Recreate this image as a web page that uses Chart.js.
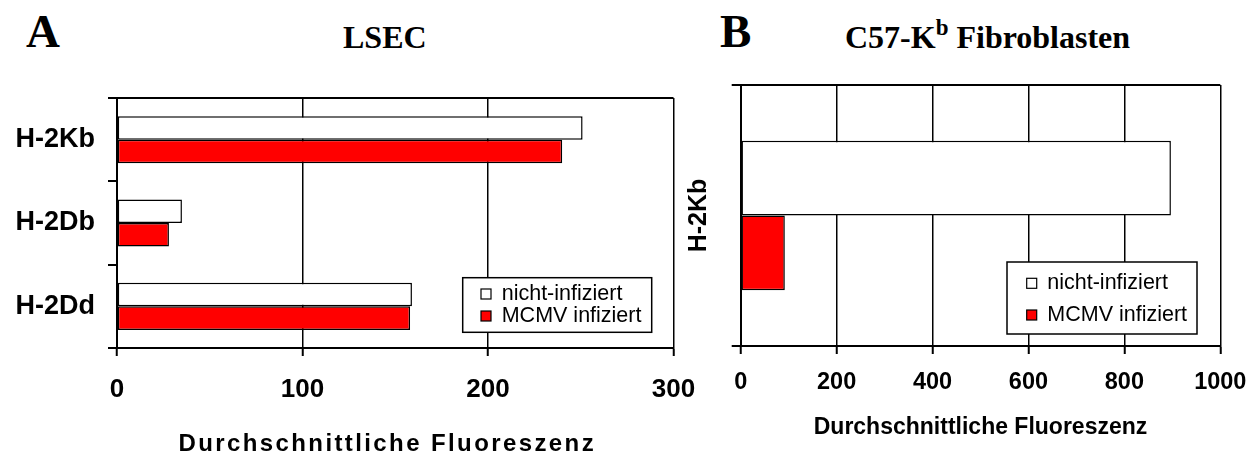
<!DOCTYPE html>
<html>
<head>
<meta charset="utf-8">
<script src="https://cdn.jsdelivr.net/npm/chart.js@4.4.1/dist/chart.umd.min.js"></script>
<style>
  html, body { margin: 0; padding: 0; background: #fff; width: 1248px; height: 456px; overflow: hidden; position: relative; }
  .t { position: absolute; font-family: "Liberation Serif", "Times New Roman", serif; font-weight: bold; line-height: 1; white-space: nowrap; color: #000; }
  canvas { position: absolute; top: 0; }
</style>
</head>
<body>
<div class="t" style="left:26px;top:8px;font-size:47px">A</div>
<div class="t" style="left:343px;top:21px;font-size:32px">LSEC</div>
<div class="t" style="left:720px;top:8px;font-size:47px">B</div>
<div class="t" style="left:845px;top:21px;font-size:32px">C57-K<span style="font-size:23px;position:relative;top:-13px">b</span> Fibroblasten</div>
<canvas id="chartA" width="714" height="456" style="left:0"></canvas>
<canvas id="chartB" width="610" height="456" style="left:670px"></canvas>
<script>
// Mean fluorescence of MHC class I alleles, uninfected vs. MCMV-infected cells
const seriesLabels = ['nicht-infiziert', 'MCMV infiziert'];
const seriesColors = ['#ffffff', '#ff0000'];

// Panel A: liver sinusoidal endothelial cells
const categoriesA = ['H-2Kb', 'H-2Db', 'H-2Dd'];
const uninfectedA = [251, 35, 159];
const infectedA = [240, 28, 158];
const ticksA = [0, 100, 200, 300];

// Panel B: C57-Kb fibroblasts
const categoriesB = ['H-2Kb'];
const uninfectedB = [897];
const infectedB = [92];
const ticksB = [0, 200, 400, 600, 800, 1000];

const axisTitleText = 'Durchschnittliche Fluoreszenz';
const FONT = '"Liberation Sans", Arial, Helvetica, sans-serif';
Chart.defaults.font.family = FONT;
Chart.defaults.color = '#000';

// Boxed legend placed inside the plot area, anchored to its lower right corner
const insetLegend = {
  id: 'insetLegend',
  afterDatasetsDraw(chart, args, o) {
    const { ctx, chartArea: ca } = chart;
    const x = ca.right - o.right - o.width;
    const y = ca.bottom - o.bottom - o.height;
    ctx.save();
    ctx.fillStyle = '#fff';
    ctx.fillRect(x, y, o.width, o.height);
    ctx.lineWidth = 1.5;
    ctx.strokeStyle = '#000';
    ctx.strokeRect(x, y, o.width, o.height);
    ctx.font = o.fontSize + 'px ' + FONT;
    ctx.textBaseline = 'middle';
    ctx.textAlign = 'left';
    chart.data.datasets.forEach((ds, i) => {
      const cy = y + o.rows[i];
      const mx = x + o.markerX;
      ctx.fillStyle = ds.backgroundColor;
      ctx.fillRect(mx, cy - o.marker / 2, o.marker, o.marker);
      ctx.lineWidth = 1.2;
      ctx.strokeStyle = '#000';
      ctx.strokeRect(mx, cy - o.marker / 2, o.marker, o.marker);
      ctx.fillStyle = '#000';
      ctx.fillText(ds.label, x + o.textX, cy);
    });
    ctx.restore();
  }
};

// Value-axis caption below the tick labels, with optional letter spacing
const spacedAxisTitle = {
  id: 'spacedAxisTitle',
  afterDraw(chart, args, o) {
    if (!o.text) return;
    const { ctx, chartArea: ca } = chart;
    ctx.save();
    ctx.font = 'bold ' + o.size + 'px ' + FONT;
    if ('letterSpacing' in ctx) ctx.letterSpacing = o.spacing + 'px';
    ctx.textAlign = 'center';
    ctx.textBaseline = 'middle';
    ctx.fillStyle = '#000';
    ctx.fillText(o.text, (ca.left + ca.right) / 2 + (o.shift || 0), ca.bottom + o.offset);
    ctx.restore();
  }
};

function barChart(id, p) {
  const ds = (i, values) => ({
    label: seriesLabels[i],
    data: values,
    backgroundColor: seriesColors[i],
    borderColor: '#000',
    borderWidth: 1.5,
    borderSkipped: false,
    categoryPercentage: p.groupFrac,
    barPercentage: 1
  });
  return new Chart(document.getElementById(id), {
    type: 'bar',
    data: { labels: p.categories, datasets: [ds(0, p.uninfected), ds(1, p.infected)] },
    options: {
      indexAxis: 'y',
      responsive: false,
      animation: false,
      devicePixelRatio: 1,
      layout: { padding: p.padding },
      plugins: {
        legend: { display: false },
        tooltip: { enabled: false },
        insetLegend: p.legend,
        spacedAxisTitle: p.axisTitle
      },
      scales: {
        x: {
          type: 'linear',
          min: p.ticks[0],
          max: p.ticks[p.ticks.length - 1],
          afterBuildTicks: s => { s.ticks = p.ticks.map(v => ({ value: v })); },
          ticks: { autoSkip: false, maxRotation: 0, color: '#000', padding: p.xTickPad,
                   font: { size: p.xTickSize, weight: 'bold' },
                   callback: v => String(v) },
          grid: { color: '#000', lineWidth: 1.5, tickLength: 8, tickWidth: 2 },
          border: { color: '#000', width: 2 },
          afterFit: s => { s.height = p.xHeight; }
        },
        y: {
          ticks: { display: p.yTicks, color: '#000', padding: p.yTickPad,
                   font: { size: p.yTickSize, weight: 'bold' } },
          grid: {
            offset: true,
            drawOnChartArea: true,
            color: c => (c.index === 0 ? '#000' : 'rgba(0,0,0,0)'),
            tickColor: '#000',
            lineWidth: 2,
            tickLength: 9
          },
          border: { color: '#000', width: 2 },
          title: p.yTitle,
          afterFit: s => { s.width = p.yWidth; }
        }
      }
    },
    plugins: [insetLegend, spacedAxisTitle]
  });
}

barChart('chartA', {
  categories: categoriesA, uninfected: uninfectedA, infected: infectedA, ticks: ticksA,
  groupFrac: 0.565,
  padding: { left: 0, top: 98, right: 40.5, bottom: 0 },
  yWidth: 117, xHeight: 108,
  xTickSize: 26, xTickPad: 18.4,
  yTicks: true, yTickSize: 27, yTickPad: 13,
  yTitle: { display: false },
  legend: { right: 21.8, bottom: 15.7, width: 189, height: 54.6, rows: [16.3, 38.3],
            markerX: 18.3, marker: 10, textX: 39, fontSize: 21.5 },
  axisTitle: { text: axisTitleText, size: 24, spacing: 2.4, offset: 96, shift: -8 }
});

barChart('chartB', {
  categories: categoriesB, uninfected: uninfectedB, infected: infectedB, ticks: ticksB,
  groupFrac: 0.572,
  padding: { left: 0, top: 85, right: 59.7, bottom: 0 },
  yWidth: 70.7, xHeight: 110,
  xTickSize: 23.5, xTickPad: 14.4,
  yTicks: false, yTickSize: 25, yTickPad: 10,
  yTitle: { display: true, text: categoriesB[0], color: '#000',
            font: { size: 25, weight: 'bold' }, padding: { top: 14.6, bottom: 0 } },
  legend: { right: 23.3, bottom: 12, width: 190, height: 72, rows: [21.3, 53],
            markerX: 19.7, marker: 10, textX: 40.3, fontSize: 21.5 },
  axisTitle: { text: axisTitleText, size: 23, spacing: 0, offset: 81.5 }
});
</script>
</body>
</html>
